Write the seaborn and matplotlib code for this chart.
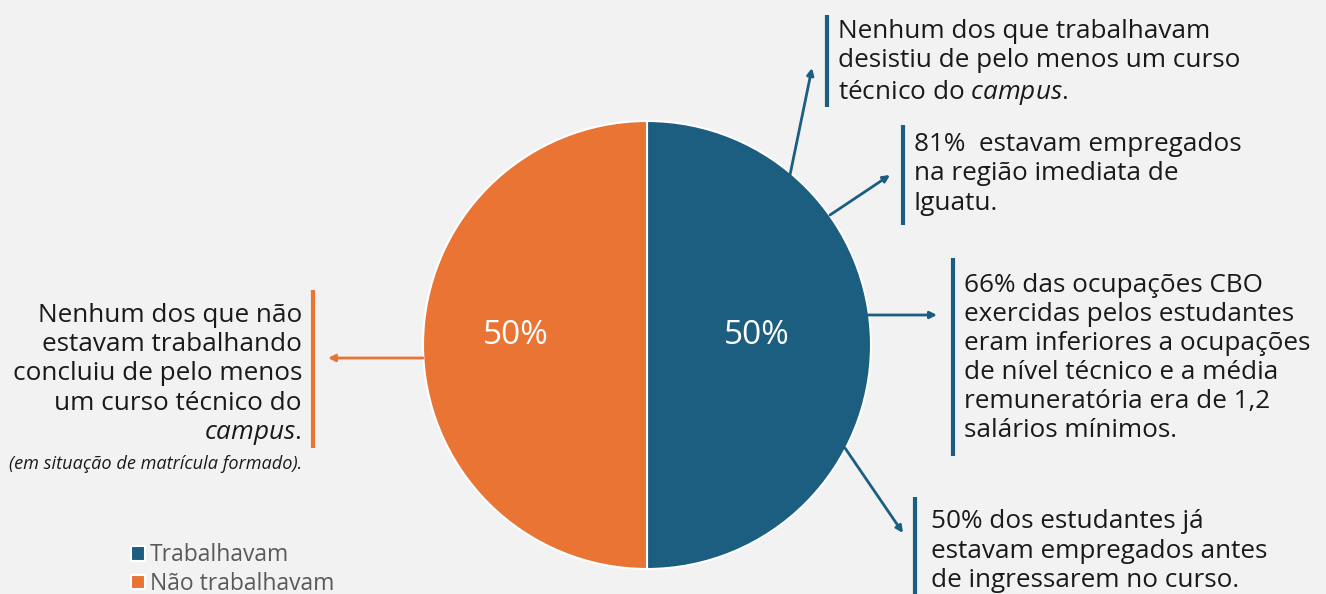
import matplotlib
matplotlib.use("Agg")
import matplotlib.pyplot as plt
import seaborn as sns

# Data
categories = ["Trabalhavam", "Não trabalhavam"]
shares = [50, 50]
colors = ["#1b5e80", "#e97434"]

notes_right = [
    "Nenhum dos que trabalhavam\ndesistiu de pelo menos um curso\ntécnico do $\\mathit{campus.}$",
    "81%  estavam empregados\nna região imediata de\nIguatu.",
    "66% das ocupações CBO\nexercidas pelos estudantes\neram inferiores a ocupações\nde nível técnico e a média\nremuneratória era de 1,2\nsalários mínimos.",
    "50% dos estudantes já\nestavam empregados antes\nde ingressarem no curso.",
]
note_left = ("Nenhum dos que não\nestavam trabalhando\nconcluiu de pelo menos\n"
             "um curso técnico do\n$\\mathit{campus.}$")
note_left_small = "(em situação de matrícula formado)."

W, H = 1326, 594
BG = "#f2f2f2"
TXT = "#1a1a1a"

sns.set_theme(style="white", rc={"axes.facecolor": BG, "figure.facecolor": BG})
plt.rcParams["font.family"] = ["Open Sans", "DejaVu Sans"]
plt.rcParams["mathtext.fontset"] = "custom"
plt.rcParams["mathtext.it"] = "Open Sans:italic"
plt.rcParams["mathtext.rm"] = "Open Sans"


def py(y):
    # pixel row (from top) -> data y
    return H - y


fig = plt.figure(figsize=(W / 100, H / 100), dpi=100)
ax = fig.add_axes([0, 0, 1, 1])

cx, cy = 647, py(345)
wedges, _, autotexts = ax.pie(
    shares, colors=colors, startangle=90, counterclock=False,
    center=(cx, cy), radius=224, frame=True,
    autopct=lambda p: f"{p:.0f}%", pctdistance=0.49,
    wedgeprops=dict(edgecolor="white", linewidth=1.5),
    textprops=dict(color="white", fontsize=24),
)
# shift percentage labels to where the reference puts them
autotexts[0].set_position((cx + 110, py(336)))
autotexts[1].set_position((cx - 131, py(336)))
ax.set_xlim(0, W)
ax.set_ylim(0, H)
ax.axis("off")

fs = 18.8
ls = 1.22

# right-hand notes: (bar x, bar top, bar bottom, text x, text center y)
right_layout = [
    (827, 15, 107, 838, 63),
    (903, 125, 225, 914, 174),
    (953, 258, 456, 964, 358),
    (915, 497, 600, 931, 551),
]
for txt, (bx, y0, y1, tx, ty) in zip(notes_right, right_layout):
    ax.plot([bx, bx], [py(y0), py(y1)], color=colors[0], lw=3, solid_capstyle="butt")
    ax.text(tx, py(ty), txt, ha="left", va="center", fontsize=fs, color=TXT,
            linespacing=ls)

# left note
ax.plot([313, 313], [py(290), py(448)], color=colors[1], lw=3, solid_capstyle="butt")
ax.text(302, py(375), note_left, ha="right", va="center", multialignment="right",
        fontsize=fs, color=TXT, linespacing=ls)
ax.text(302, py(464), note_left_small, ha="right", va="center", fontsize=13.1,
        color=TXT, style="italic")

# arrows
arrows = [
    ((790, 175), (812, 68), colors[0]),
    ((830, 215), (890, 175), colors[0]),
    ((868, 315), (937, 315), colors[0]),
    ((845, 448), (903, 533), colors[0]),
    ((423, 358), (328, 358), colors[1]),
]
for (x0, y0), (x1, y1), c in arrows:
    ax.annotate("", xy=(x1, py(y1)), xytext=(x0, py(y0)),
                arrowprops=dict(arrowstyle="-|>", color=c, lw=2,
                                mutation_scale=10, shrinkA=0, shrinkB=0))

leg = ax.legend(wedges, categories, loc="upper left",
                bbox_to_anchor=(120 / W, 1 - 532 / H), frameon=False,
                fontsize=16.5, handlelength=0.6, handleheight=0.6,
                handletextpad=0.2, labelspacing=0.2, borderpad=0)
for t in leg.get_texts():
    t.set_color("#595959")

fig.savefig("out.png", dpi=100, facecolor=BG)
